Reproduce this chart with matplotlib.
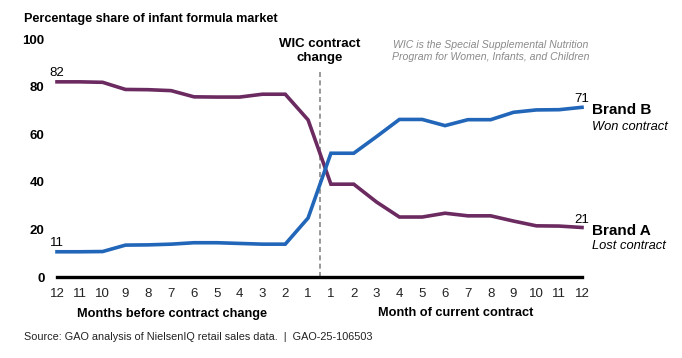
import matplotlib
matplotlib.use("Agg")
import matplotlib.pyplot as plt

plt.rcParams['font.family'] = ['Liberation Sans', 'DejaVu Sans']

before_labels = ["12", "11", "10", "9", "8", "7", "6", "5", "4", "3", "2", "1"]
after_labels = ["1", "2", "3", "4", "5", "6", "7", "8", "9", "10", "11", "12"]
tick_labels = before_labels + after_labels

brand_a = [82, 82, 81.8, 78.8, 78.7, 78.3, 75.7, 75.6, 75.6, 76.8, 76.8, 66,
           39, 39, 31.5, 25.2, 25.2, 26.8, 25.7, 25.7, 23.5, 21.5, 21.4, 20.8]
brand_b = [10.6, 10.6, 10.7, 13.4, 13.5, 13.8, 14.4, 14.4, 14.1, 13.8, 13.8, 24.8,
           52, 52, 59, 66.2, 66.2, 63.6, 66.1, 66.1, 69.2, 70.2, 70.3, 71.3]

purple = "#6b2a60"
blue = "#2166b8"

fig = plt.figure(figsize=(6.82, 3.58), dpi=100)
ax = fig.add_axes([57/682, 1-277/358, (582-57)/682, (277-39)/358])

x = list(range(len(tick_labels)))
ax.plot(x, brand_a, color=purple, lw=2.6, solid_joinstyle='miter', clip_on=False, zorder=3)
ax.plot(x, brand_b, color=blue, lw=2.6, solid_joinstyle='miter', clip_on=False, zorder=3)

ax.set_xlim(0, 23)
ax.set_ylim(0, 100)
for s in ['top', 'right', 'left']:
    ax.spines[s].set_visible(False)
ax.spines['bottom'].set_linewidth(2.4)
ax.spines['bottom'].set_color('black')
ax.set_yticks([0, 20, 40, 60, 80, 100])
ax.set_yticklabels(["0", "20", "40", "60", "80", "100"], fontweight='bold', fontsize=9.5)
ax.set_xticks(x)
ax.set_xticklabels(tick_labels, fontsize=9.5, color='#222222')
ax.tick_params(axis='both', length=0)
ax.tick_params(axis='x', pad=8)
ax.tick_params(axis='y', pad=9)

# dashed contract change line
ax.plot([11.5, 11.5], [0, 87.5], color='#888888', lw=1.2, ls=(0, (3, 2)), clip_on=False, zorder=2)
ax.text(11.5, 95, "WIC contract\nchange", ha='center', va='center', fontsize=9.5,
        fontweight='bold', linespacing=1.15)

ax.text(19.0, 95, "WIC is the Special Supplemental Nutrition\nProgram for Women, Infants, and Children",
        ha='center', va='center', fontsize=7.6, style='italic', color='#8a8a8a', linespacing=1.3)

# value labels
ax.text(0, brand_a[0] + 1.3, "82", ha='center', va='bottom', fontsize=9.5)
ax.text(0, brand_b[0] + 1.3, "11", ha='center', va='bottom', fontsize=9.5)
ax.text(23, brand_b[-1] + 0.8, "71", ha='center', va='bottom', fontsize=9.5)
ax.text(23, brand_a[-1] + 0.8, "21", ha='center', va='bottom', fontsize=9.5)

# brand labels
ax.text(23.45, 70.3, "Brand B", ha='left', va='center', fontsize=11, fontweight='bold')
ax.text(23.45, 63.0, "Won contract", ha='left', va='center', fontsize=9.3, style='italic')
ax.text(23.45, 19.4, "Brand A", ha='left', va='center', fontsize=11, fontweight='bold')
ax.text(23.45, 13.2, "Lost contract", ha='left', va='center', fontsize=9.3, style='italic')

fig.text(24/682, 1-19/358, "Percentage share of infant formula market", ha='left', va='center',
         fontsize=9.1, fontweight='bold')
fig.text(172/682, 1-314/358, "Months before contract change", ha='center', va='center',
         fontsize=9.2, fontweight='bold')
fig.text(456/682, 1-313/358, "Month of current contract", ha='center', va='center',
         fontsize=9.2, fontweight='bold')
fig.text(24/682, 1-337/358, "Source: GAO analysis of NielsenIQ retail sales data.  |  GAO-25-106503",
         ha='left', va='center', fontsize=7.8, color='#222222')

fig.savefig("out.png", dpi=100)
